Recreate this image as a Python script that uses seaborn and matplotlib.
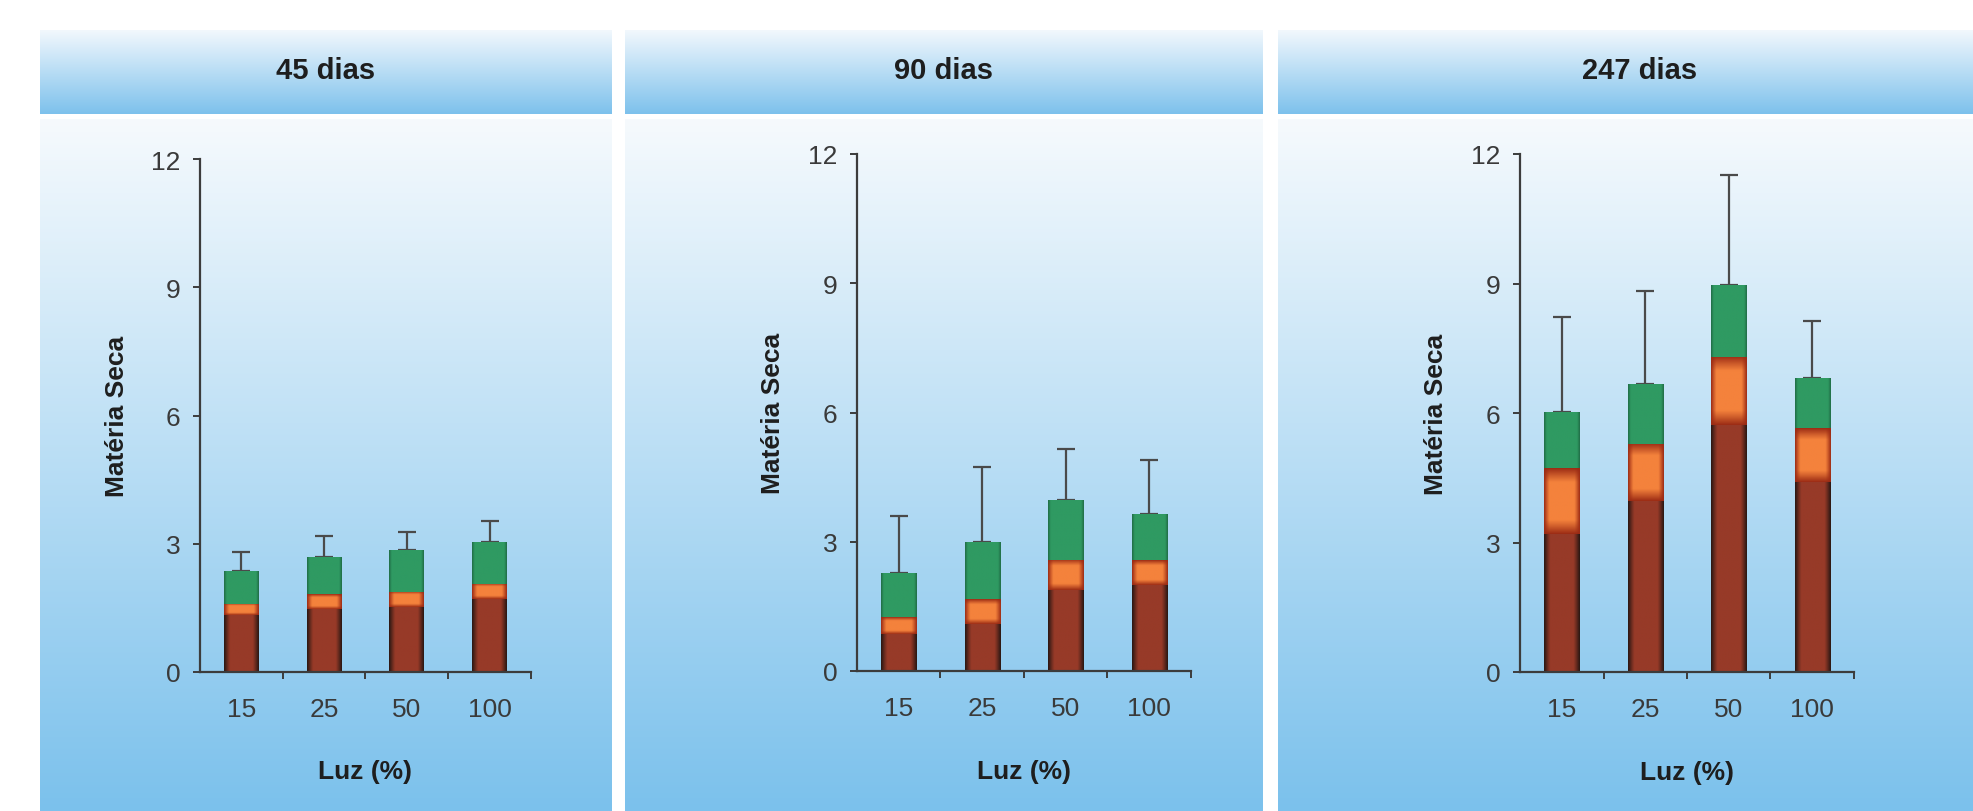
import numpy as np
import pandas as pd
import matplotlib
matplotlib.use("Agg")
import matplotlib.pyplot as plt
import seaborn as sns
from matplotlib.colors import to_rgb
from matplotlib.ticker import FixedLocator

# ---------------- data ----------------
luz = ["15", "25", "50", "100"]
periodos = ["45 dias", "90 dias", "247 dias"]

raiz_45 = [1.33, 1.48, 1.52, 1.70]
caule_45 = [0.27, 0.34, 0.36, 0.36]
folha_45 = [0.76, 0.88, 0.97, 0.97]
erro_45 = [0.45, 0.48, 0.42, 0.51]

raiz_90 = [0.86, 1.10, 1.88, 2.00]
caule_90 = [0.39, 0.58, 0.70, 0.57]
folha_90 = [1.03, 1.32, 1.38, 1.08]
erro_90 = [1.32, 1.74, 1.19, 1.24]

raiz_247 = [3.20, 3.95, 5.72, 4.40]
caule_247 = [1.52, 1.34, 1.58, 1.25]
folha_247 = [1.30, 1.38, 1.67, 1.17]
erro_247 = [2.21, 2.16, 2.55, 1.31]

y_ticks = [0, 3, 6, 9, 12]
y_label = "Matéria Seca"
x_label = "Luz (%)"

paineis = [
    (periodos[0], raiz_45, caule_45, folha_45, erro_45),
    (periodos[1], raiz_90, caule_90, folha_90, erro_90),
    (periodos[2], raiz_247, caule_247, folha_247, erro_247),
]

# ---------------- style ----------------
sns.set_theme(style="white")
plt.rcParams["font.family"] = ["Liberation Sans", "DejaVu Sans"]

W, H = 1974, 812
fig = plt.figure(figsize=(W / 100, H / 100), dpi=100)
fig.patch.set_facecolor("white")

# background decoration (panel headers and bodies with gradients)
bg = fig.add_axes([0, 0, 1, 1], zorder=0)
bg.set_xlim(0, W)
bg.set_ylim(H, 0)
bg.axis("off")


def vgrad(ax, x0, x1, y0, y1, ctop, cbot):
    n = 256
    t = np.linspace(0, 1, n)[:, None]
    a = np.array(to_rgb(ctop))
    b = np.array(to_rgb(cbot))
    img = a + (b - a) * t[..., None]
    img = np.repeat(img, 2, axis=1)
    ax.imshow(img, extent=[x0, x1, y1, y0], origin="upper", aspect="auto",
              interpolation="bilinear", zorder=1)


panel_x = [(40, 612), (625, 1263), (1278, 2002)]
for (x0, x1) in panel_x:
    vgrad(bg, x0, x1, 31, 115, "#f2f8fd", "#7dc1ec")
    vgrad(bg, x0, x1, 120, 812, "#f6fafd", "#7bc1ec")
bg.set_xlim(0, W)
bg.set_ylim(H, 0)

title_x = [326, 944, 1640]
for tx, nome in zip(title_x, periodos):
    fig.text(tx / W, 1 - 71 / H, nome, ha="center", va="center",
             fontsize=21, fontweight="bold", color="#1e1e1e")

axes_pos = [
    [200 / W, 1 - 673 / H, 331 / W, (673 - 160) / H],
    [857 / W, 1 - 672 / H, 334 / W, (672 - 155) / H],
    [1520 / W, 1 - 673 / H, 334 / W, (673 - 155) / H],
]

C_FOLHA = ("#1f6a45", "#2f9a62")
C_CAULE = ("#9a2a14", "#f4823c")
C_RAIZ = ("#261612", "#973a28")


def fill_gradient(ax, patch, y_lo, y_hi, cols, hpow, vpow, z):
    x0 = patch.get_x()
    w = patch.get_width()
    n = 64
    t = (np.arange(n) + 0.5) / n
    bh = np.clip(np.sin(np.pi * t) * hpow, 0, 1)
    if vpow is None:
        b = np.tile(bh, (2, 1))
    else:
        s = (np.arange(n) + 0.5) / n
        bv = np.clip(np.sin(np.pi * s) * vpow, 0, 1)
        b = np.outer(bv, bh)
    e = np.array(to_rgb(cols[0]))
    c = np.array(to_rgb(cols[1]))
    img = e + (c - e) * b[..., None]
    im = ax.imshow(img, extent=[x0, x0 + w, y_lo, y_hi], origin="lower",
                   aspect="auto", interpolation="bilinear", zorder=z)
    im.set_clip_path(patch)


for pos, (nome, raiz, caule, folha, erro) in zip(axes_pos, paineis):
    ax = fig.add_axes(pos, zorder=2)
    ax.set_facecolor("none")
    raiz = np.array(raiz)
    caule = np.array(caule)
    folha = np.array(folha)
    t_orange = raiz + caule
    t_total = raiz + caule + folha

    df = pd.DataFrame({"luz": luz, "raiz": raiz, "caule": t_orange, "total": t_total})

    ax.errorbar(x=np.arange(len(luz)), y=t_total,
                yerr=[np.zeros(len(luz)), np.array(erro)], fmt="none",
                ecolor="#4a4a4a", elinewidth=1.6, capsize=6.5, capthick=1.6,
                zorder=1)

    sns.barplot(data=df, x="luz", y="total", order=luz, color=C_FOLHA[1],
                width=0.42, errorbar=None, ax=ax, saturation=1, linewidth=0)
    p_g = list(ax.patches[-4:])
    sns.barplot(data=df, x="luz", y="caule", order=luz, color=C_CAULE[1],
                width=0.42, errorbar=None, ax=ax, saturation=1, linewidth=0)
    p_o = list(ax.patches[-4:])
    sns.barplot(data=df, x="luz", y="raiz", order=luz, color=C_RAIZ[1],
                width=0.42, errorbar=None, ax=ax, saturation=1, linewidth=0)
    p_r = list(ax.patches[-4:])

    for pg, po, pr in zip(p_g, p_o, p_r):
        pg.set_zorder(3)
        po.set_zorder(4)
        pr.set_zorder(5)
        fill_gradient(ax, pg, po.get_height(), pg.get_height(), C_FOLHA, 4.0, None, 3.5)
        fill_gradient(ax, po, pr.get_height(), po.get_height(), C_CAULE, 2.2, 1.6, 4.5)
        fill_gradient(ax, pr, 0, pr.get_height(), C_RAIZ, 1.9, None, 5.5)

    ax.set_xlim(-0.5, 3.5)
    ax.set_ylim(0, 12)
    ax.set_yticks(y_ticks)
    ax.set_yticklabels([str(v) for v in y_ticks])
    ax.xaxis.set_minor_locator(FixedLocator([0.5, 1.5, 2.5, 3.5]))

    for s in ["top", "right"]:
        ax.spines[s].set_visible(False)
    for s in ["left", "bottom"]:
        ax.spines[s].set_color("#3c3c3c")
        ax.spines[s].set_linewidth(1.6)
        ax.spines[s].set_zorder(6)

    ax.tick_params(axis="y", which="major", direction="out", length=5, width=1.4,
                   color="#3c3c3c", labelsize=19, labelcolor="#3a3a3a", pad=9, left=True)
    ax.tick_params(axis="x", which="major", length=0, labelsize=19,
                   labelcolor="#3a3a3a", pad=18, bottom=True)
    ax.tick_params(axis="x", which="minor", direction="out", length=5, width=1.4,
                   color="#3c3c3c", bottom=True)

    ax.set_xlabel(x_label, fontsize=19, fontweight="bold", color="#1e1e1e")
    ax.set_ylabel(y_label, fontsize=19, fontweight="bold", color="#1e1e1e")
    ax.xaxis.set_label_coords(0.5, -0.17)
    ax.yaxis.set_label_coords(-0.215, 0.5)
    ax.grid(False)

fig.savefig("out.png", dpi=100, facecolor="white")
